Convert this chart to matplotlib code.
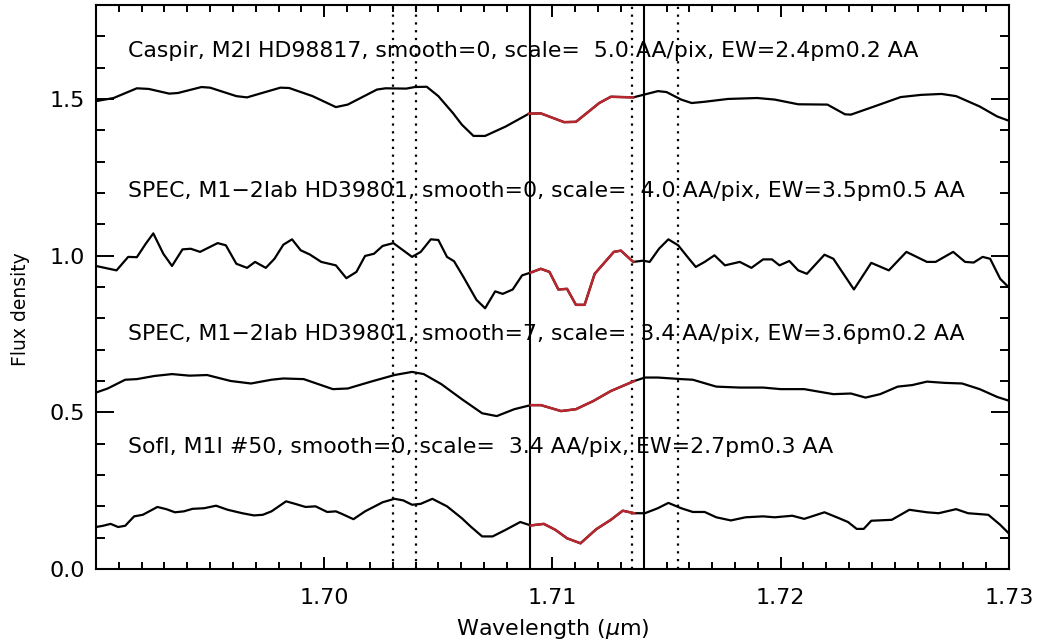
"""Spectra around the 1.71 um feature for four stars, with EW windows marked."""
import matplotlib
matplotlib.use("Agg")
import matplotlib.pyplot as plt
import numpy as np
from matplotlib.ticker import MultipleLocator

# Caspir, M2I HD98817, smooth=0
caspir_wl = [1.69000, 1.69077, 1.69179, 1.69231, 1.69321, 1.69359, 1.69462, 1.69500,
             1.69615, 1.69662, 1.69718, 1.69808, 1.69846, 1.69949, 1.70051, 1.70103,
             1.70231, 1.70269, 1.70359, 1.70397, 1.70449, 1.70500, 1.70564, 1.70603,
             1.70654, 1.70705, 1.70795, 1.70897, 1.70949, 1.71051, 1.71103, 1.71205,
             1.71256, 1.71354, 1.71462, 1.71500, 1.71564, 1.71610, 1.71667, 1.71769,
             1.71897, 1.71974, 1.72077, 1.72205, 1.72282, 1.72308, 1.72410, 1.72526,
             1.72615, 1.72705, 1.72769, 1.72872, 1.72949, 1.73013]
caspir_flux = [1.493, 1.503, 1.534, 1.532, 1.517, 1.519, 1.538, 1.536,
               1.509, 1.505, 1.517, 1.536, 1.535, 1.509, 1.474, 1.482,
               1.530, 1.534, 1.533, 1.538, 1.539, 1.509, 1.455, 1.418,
               1.382, 1.382, 1.412, 1.453, 1.454, 1.426, 1.427, 1.487,
               1.507, 1.505, 1.525, 1.522, 1.498, 1.487, 1.491, 1.500,
               1.503, 1.498, 1.483, 1.482, 1.451, 1.450, 1.476, 1.506,
               1.513, 1.516, 1.509, 1.476, 1.444, 1.427]

# SPEC, M1-2Iab HD39801, smooth=0
spec0_wl = [1.69000, 1.69090, 1.69141, 1.69179, 1.69218, 1.69251, 1.69295, 1.69333,
            1.69379, 1.69415, 1.69456, 1.69533, 1.69569, 1.69615, 1.69662, 1.69697,
            1.69744, 1.69782, 1.69821, 1.69859, 1.69897, 1.69936, 1.69987, 1.70051,
            1.70097, 1.70141, 1.70179, 1.70218, 1.70256, 1.70303, 1.70385, 1.70423,
            1.70467, 1.70500, 1.70538, 1.70569, 1.70610, 1.70667, 1.70705, 1.70749,
            1.70782, 1.70826, 1.70867, 1.70905, 1.70949, 1.70987, 1.71026, 1.71064,
            1.71103, 1.71141, 1.71185, 1.71269, 1.71300, 1.71354, 1.71397, 1.71426,
            1.71467, 1.71508, 1.71551, 1.71595, 1.71628, 1.71667, 1.71710, 1.71756,
            1.71821, 1.71872, 1.71923, 1.71962, 1.71995, 1.72038, 1.72077, 1.72115,
            1.72192, 1.72231, 1.72321, 1.72397, 1.72474, 1.72551, 1.72641, 1.72679,
            1.72756, 1.72808, 1.72846, 1.72885, 1.72918, 1.72962, 1.73013]
spec0_flux = [0.967, 0.953, 0.996, 0.995, 1.038, 1.071, 1.006, 0.967,
              1.020, 1.022, 1.012, 1.040, 1.033, 0.974, 0.961, 0.980,
              0.961, 0.990, 1.035, 1.052, 1.017, 1.004, 0.980, 0.969,
              0.928, 0.948, 0.999, 1.006, 1.031, 1.040, 0.996, 1.012,
              1.052, 1.050, 0.996, 0.982, 0.932, 0.859, 0.832, 0.886,
              0.878, 0.892, 0.937, 0.946, 0.958, 0.948, 0.892, 0.894,
              0.843, 0.843, 0.942, 1.012, 1.016, 0.980, 0.984, 0.980,
              1.022, 1.052, 1.033, 0.993, 0.964, 0.980, 1.001, 0.969,
              0.980, 0.961, 0.988, 0.988, 0.969, 0.983, 0.953, 0.942,
              1.003, 0.990, 0.892, 0.977, 0.953, 1.012, 0.980, 0.980,
              1.012, 0.980, 0.978, 0.996, 0.990, 0.926, 0.889]

# SPEC, M1-2Iab HD39801, smooth=7
spec7_wl = [1.69000, 1.69051, 1.69128, 1.69179, 1.69256, 1.69333, 1.69410, 1.69487,
            1.69590, 1.69679, 1.69769, 1.69821, 1.69910, 1.69974, 1.70038, 1.70103,
            1.70205, 1.70308, 1.70385, 1.70436, 1.70513, 1.70603, 1.70692, 1.70756,
            1.70833, 1.70905, 1.70949, 1.71038, 1.71103, 1.71179, 1.71256, 1.71359,
            1.71405, 1.71462, 1.71564, 1.71615, 1.71718, 1.71821, 1.71923, 1.72000,
            1.72103, 1.72231, 1.72308, 1.72372, 1.72436, 1.72513, 1.72577, 1.72641,
            1.72718, 1.72795, 1.72872, 1.72949, 1.73013]
spec7_flux = [0.563, 0.576, 0.604, 0.606, 0.616, 0.622, 0.617, 0.619,
              0.600, 0.592, 0.604, 0.608, 0.606, 0.590, 0.574, 0.576,
              0.598, 0.619, 0.629, 0.622, 0.590, 0.542, 0.497, 0.488,
              0.510, 0.523, 0.523, 0.504, 0.510, 0.536, 0.568, 0.600,
              0.611, 0.611, 0.606, 0.604, 0.582, 0.579, 0.579, 0.574,
              0.574, 0.558, 0.560, 0.547, 0.558, 0.582, 0.587, 0.598,
              0.594, 0.592, 0.574, 0.549, 0.534]

# SofI, M1I #50, smooth=0
sofi_wl = [1.69000, 1.69031, 1.69064, 1.69097, 1.69128, 1.69167, 1.69205, 1.69269,
           1.69308, 1.69346, 1.69385, 1.69423, 1.69474, 1.69526, 1.69577, 1.69641,
           1.69692, 1.69731, 1.69769, 1.69833, 1.69872, 1.69918, 1.69962, 1.70013,
           1.70051, 1.70077, 1.70128, 1.70179, 1.70256, 1.70308, 1.70346, 1.70385,
           1.70423, 1.70474, 1.70538, 1.70603, 1.70641, 1.70692, 1.70738, 1.70795,
           1.70859, 1.70905, 1.70962, 1.71013, 1.71064, 1.71123, 1.71192, 1.71256,
           1.71308, 1.71359, 1.71405, 1.71462, 1.71508, 1.71564, 1.71615, 1.71667,
           1.71718, 1.71782, 1.71846, 1.71923, 1.71974, 1.72051, 1.72103, 1.72192,
           1.72256, 1.72295, 1.72333, 1.72364, 1.72397, 1.72487, 1.72564, 1.72641,
           1.72692, 1.72769, 1.72821, 1.72910, 1.72962, 1.73013]
sofi_flux = [0.134, 0.138, 0.144, 0.134, 0.138, 0.168, 0.173, 0.198,
             0.191, 0.181, 0.184, 0.192, 0.194, 0.202, 0.189, 0.178,
             0.171, 0.173, 0.184, 0.216, 0.208, 0.198, 0.200, 0.182,
             0.184, 0.176, 0.159, 0.184, 0.213, 0.224, 0.219, 0.205,
             0.208, 0.224, 0.200, 0.162, 0.136, 0.104, 0.104, 0.125,
             0.150, 0.139, 0.144, 0.125, 0.098, 0.082, 0.127, 0.157,
             0.186, 0.178, 0.178, 0.194, 0.211, 0.194, 0.182, 0.182,
             0.165, 0.155, 0.165, 0.168, 0.165, 0.170, 0.160, 0.181,
             0.162, 0.150, 0.128, 0.128, 0.154, 0.157, 0.189, 0.181,
             0.178, 0.191, 0.178, 0.173, 0.141, 0.104]

labels = [
    "Caspir, M2I HD98817, smooth=0, scale=  5.0 AA/pix, EW=2.4pm0.2 AA",
    "SPEC, M1\u22122Iab HD39801, smooth=0, scale=  4.0 AA/pix, EW=3.5pm0.5 AA",
    "SPEC, M1\u22122Iab HD39801, smooth=7, scale=  3.4 AA/pix, EW=3.6pm0.2 AA",
    "SofI, M1I #50, smooth=0, scale=  3.4 AA/pix, EW=2.7pm0.3 AA",
]
label_y = [1.654, 1.205, 0.750, 0.388]

# feature window (red) and continuum markers
ew_lo, ew_hi = 1.7090, 1.7135
solid_lines = [1.7090, 1.7140]
dotted_lines = [1.7030, 1.7040, 1.7135, 1.7155]

RED = "#b8262e"

fig = plt.figure(figsize=(10.39, 6.42), dpi=100)
ax = fig.add_axes([0.0924, 0.1137, 0.8786, 0.8786])

spectra = [(caspir_wl, caspir_flux), (spec0_wl, spec0_flux),
           (spec7_wl, spec7_flux), (sofi_wl, sofi_flux)]
for (wl, fl), text, ty in zip(spectra, labels, label_y):
    wl = np.asarray(wl)
    fl = np.asarray(fl)
    ax.plot(wl, fl, color="black", lw=1.6, zorder=3)
    m = (wl >= ew_lo - 0.0001) & (wl <= ew_hi + 0.0001)
    ax.plot(wl[m], fl[m], color=RED, lw=1.8, zorder=4)
    ax.text(1.6914, ty, text, fontsize=15.8, va="center", ha="left", zorder=2)

for x in solid_lines:
    ax.axvline(x, color="black", lw=1.5, zorder=2)
for x in dotted_lines:
    ax.axvline(x, color="black", lw=1.6, ls=(0, (1, 2.5)), zorder=2)

ax.set_xlim(1.69, 1.73)
ax.set_ylim(0.0, 1.8)
ax.set_xticks([1.70, 1.71, 1.72, 1.73])
ax.set_xticklabels(["1.70", "1.71", "1.72", "1.73"])
ax.xaxis.set_minor_locator(MultipleLocator(0.001))
ax.set_yticks([0.0, 0.5, 1.0, 1.5])
ax.set_yticklabels(["0.0", "0.5", "1.0", "1.5"])
ax.yaxis.set_minor_locator(MultipleLocator(0.1))
ax.tick_params(axis="both", which="both", direction="in", top=True, right=True,
               labelsize=16, width=1.4)
ax.tick_params(axis="x", which="major", length=8.5, pad=14)
ax.tick_params(axis="x", which="minor", length=5)
ax.tick_params(axis="y", which="major", length=13, pad=8)
ax.tick_params(axis="y", which="minor", length=6.5)
for s in ax.spines.values():
    s.set_linewidth(1.5)

ax.set_xlabel("Wavelength ($\\mu$m)", fontsize=16, labelpad=6)
ax.set_ylabel("Flux density", fontsize=13.5)
ax.yaxis.set_label_coords(-0.072, 0.46)

fig.savefig("out.png", dpi=100)
